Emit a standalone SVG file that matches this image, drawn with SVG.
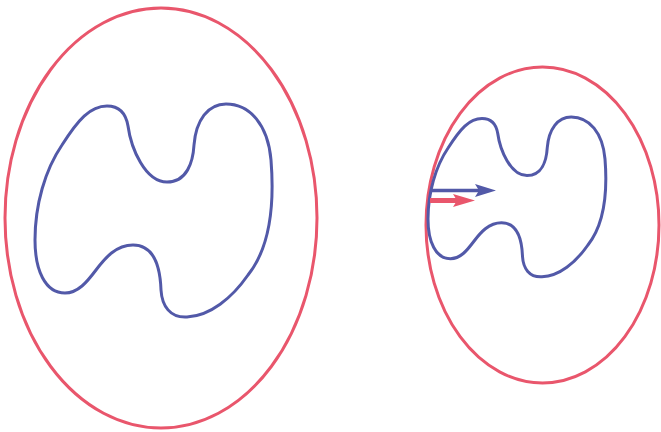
<svg xmlns="http://www.w3.org/2000/svg" width="661" height="432" viewBox="0 0 661 432">
<defs>
<style>
.outer{fill:none;stroke:#e9566c;stroke-width:3}
.blob{fill:none;stroke:#5259a8;stroke-width:3;stroke-linejoin:round}
</style>
<path id="blobShape" d="M107,106 C120,106 126,114 128,126 C131,148 145,182 167,182 C187,182 193,162 194,145 C196,120 208,104 226,104 C250,104 268,125 271,160 C275,210 268,250 248,275 C232,298 210,316 187,317 C170,318 162,306 161,290 C160,262 152,245 133,245 C116,245 105,258 96,270 C87,282 78,293 65,293 C45,293 35,270 35,240 C35,205 45,170 62,145 C78,120 90,106 107,106 Z"/>
<marker id="headBlue" markerUnits="userSpaceOnUse" markerWidth="22" markerHeight="14" refX="4" refY="7" orient="auto" viewBox="0 0 22 14">
<path d="M0,0.5 L21,7 L0,13.5 L4,7 Z" fill="#5259a8"/>
</marker>
<marker id="headRed" markerUnits="userSpaceOnUse" markerWidth="23" markerHeight="14" refX="4" refY="7" orient="auto" viewBox="0 0 23 14">
<path d="M0,0.5 L22,7 L0,13.5 L4,7 Z" fill="#e9566c"/>
</marker>
</defs>
<g id="left-region">
<ellipse class="outer" cx="161" cy="218" rx="156" ry="210"/>
<use href="#blobShape" class="blob"/>
</g>
<g id="right-region">
<ellipse class="outer" cx="542.5" cy="225" rx="116.5" ry="158"/>
<use href="#blobShape" class="blob" transform="translate(401.75,39) scale(0.75)" style="stroke-width:4"/>
</g>
<g id="connectors">
<line x1="432" y1="190.5" x2="479" y2="190.5" stroke="#5259a8" stroke-width="3.5" marker-end="url(#headBlue)"/>
<line x1="430" y1="200.5" x2="457" y2="200.5" stroke="#e9566c" stroke-width="5" marker-end="url(#headRed)"/>
</g>
</svg>
